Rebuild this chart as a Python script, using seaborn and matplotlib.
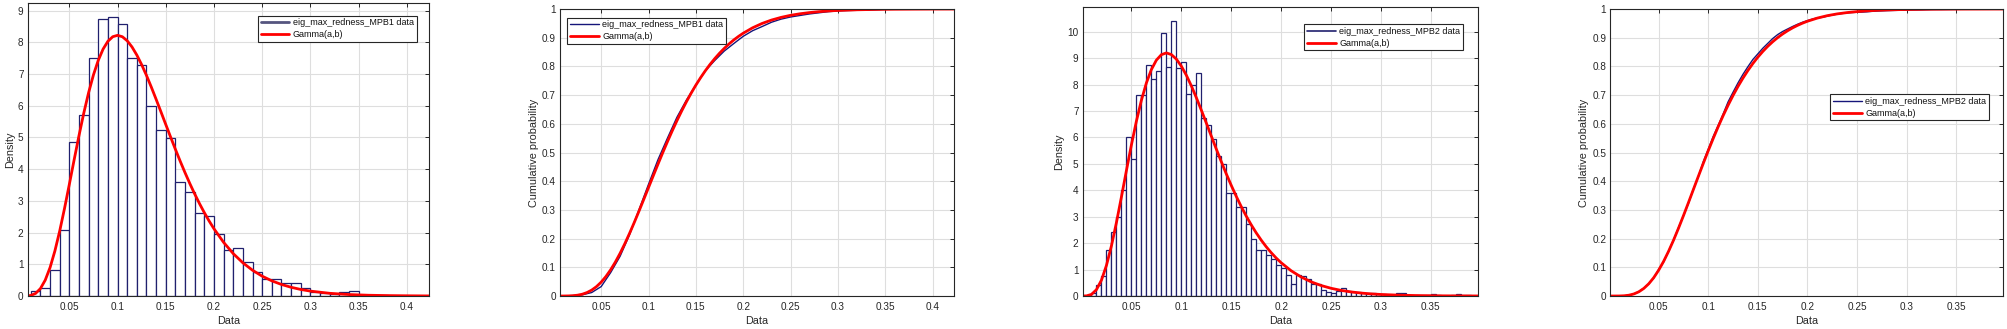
import numpy as np
import pandas as pd
import matplotlib
matplotlib.use("Agg")
import matplotlib.pyplot as plt
from matplotlib.lines import Line2D
from matplotlib.ticker import FuncFormatter
import seaborn as sns

# ---------------- data ----------------
# Dataset 1 (eig_max_redness_MPB1): histogram, bin width 0.01 starting at 0.01
mpb1_bin_start = 0.01
mpb1_bin_width = 0.01
mpb1_density = [0.16, 0.24, 0.81, 2.07, 4.87, 5.71, 7.52, 8.75, 8.81, 8.59,
                7.51, 7.27, 5.98, 5.25, 4.97, 3.61, 3.27, 2.61, 2.53, 1.97,
                1.45, 1.51, 1.07, 0.75, 0.53, 0.53, 0.40, 0.40, 0.25, 0.14,
                0.08, 0.06, 0.12, 0.16, 0.04, 0.03, 0.03, 0.01]

# Dataset 2 (eig_max_redness_MPB2): histogram, bin width 0.005 starting at 0.01
mpb2_bin_start = 0.01
mpb2_bin_width = 0.005
mpb2_density = [0.12, 0.42, 0.77, 1.73, 2.43, 2.98, 4.00, 6.03,
                5.17, 7.59, 7.59, 8.75, 8.22, 8.51, 9.95, 8.68, 10.40, 8.64,
                8.84, 7.63, 7.97, 8.42, 6.72, 6.47, 5.93, 5.31, 5.01, 3.88,
                3.91, 3.38, 3.38, 2.74, 2.14, 1.73, 1.73, 1.55, 1.39, 1.17,
                1.05, 0.81, 0.44, 0.79, 0.77, 0.64, 0.44, 0.44, 0.23, 0.16,
                0.13, 0.19, 0.32, 0.20, 0.15, 0.15, 0.10, 0.10, 0.10, 0.08,
                0.06, 0.05, 0.05, 0.11, 0.11, 0.03, 0.00, 0.03, 0.03, 0.03,
                0.06, 0.03, 0.00, 0.00, 0.03, 0.06, 0.03, 0.04]

# Fitted Gamma(a,b) curves
g1_x = [0.0065, 0.010, 0.015, 0.020, 0.025, 0.030, 0.035, 0.040, 0.045, 0.050,
        0.055, 0.060, 0.065, 0.070, 0.075, 0.080, 0.085, 0.090, 0.095, 0.100,
        0.105, 0.110, 0.115, 0.120, 0.125, 0.130, 0.135, 0.140, 0.145, 0.150,
        0.155, 0.160, 0.165, 0.170, 0.175, 0.180, 0.185, 0.190, 0.195, 0.200,
        0.21, 0.22, 0.23, 0.24, 0.25, 0.26, 0.27, 0.28, 0.29, 0.30,
        0.32, 0.34, 0.36, 0.38, 0.40, 0.42, 0.423]
g1_pdf = [0.003, 0.017, 0.082, 0.234, 0.502, 0.898, 1.420, 2.051, 2.763, 3.524,
          4.300, 5.059, 5.773, 6.417, 6.974, 7.433, 7.787, 8.034, 8.177, 8.221,
          8.176, 8.049, 7.853, 7.598, 7.295, 6.956, 6.589, 6.203, 5.808, 5.409,
          5.014, 4.625, 4.249, 3.888, 3.543, 3.218, 2.913, 2.628, 2.364, 2.120,
          1.691, 1.336, 1.046, 0.812, 0.625, 0.478, 0.364, 0.275, 0.206, 0.154,
          0.085, 0.046, 0.024, 0.013, 0.007, 0.003, 0.003]
g1_cdf = [0.0000, 0.0000, 0.0003, 0.0010, 0.0028, 0.0062, 0.0120, 0.0206, 0.0326, 0.0483,
          0.0679, 0.0913, 0.1184, 0.1489, 0.1824, 0.2185, 0.2566, 0.2962, 0.3368, 0.3778,
          0.4188, 0.4594, 0.4992, 0.5378, 0.5751, 0.6107, 0.6446, 0.6766, 0.7066, 0.7347,
          0.7607, 0.7848, 0.8070, 0.8273, 0.8459, 0.8628, 0.8781, 0.8920, 0.9044, 0.9156,
          0.9346, 0.9497, 0.9616, 0.9708, 0.9780, 0.9834, 0.9876, 0.9908, 0.9932, 0.9950,
          0.9973, 0.9986, 0.9993, 0.9996, 0.9998, 0.9999, 0.9999]

g2_x = [0.0012, 0.005, 0.010, 0.015, 0.020, 0.025, 0.030, 0.035, 0.040, 0.045,
        0.050, 0.055, 0.060, 0.065, 0.070, 0.075, 0.080, 0.085, 0.090, 0.095,
        0.100, 0.105, 0.110, 0.115, 0.120, 0.125, 0.130, 0.135, 0.140, 0.145,
        0.150, 0.155, 0.160, 0.165, 0.170, 0.175, 0.180, 0.185, 0.190, 0.195,
        0.200, 0.21, 0.22, 0.23, 0.24, 0.25, 0.26, 0.27, 0.28, 0.29,
        0.30, 0.32, 0.34, 0.36, 0.38, 0.3975]
g2_pdf = [0.000, 0.005, 0.060, 0.240, 0.600, 1.158, 1.898, 2.779, 3.747, 4.744,
          5.715, 6.613, 7.402, 8.058, 8.566, 8.921, 9.128, 9.194, 9.133, 8.961,
          8.695, 8.353, 7.952, 7.507, 7.034, 6.546, 6.052, 5.563, 5.085, 4.624,
          4.186, 3.772, 3.384, 3.025, 2.694, 2.391, 2.115, 1.865, 1.640, 1.438,
          1.258, 0.955, 0.719, 0.536, 0.397, 0.292, 0.213, 0.155, 0.112, 0.080,
          0.058, 0.029, 0.014, 0.007, 0.003, 0.002]
g2_cdf = [0.0000, 0.0000, 0.0001, 0.0008, 0.0028, 0.0072, 0.0147, 0.0264, 0.0427, 0.0639,
          0.0901, 0.1209, 0.1560, 0.1947, 0.2363, 0.2801, 0.3253, 0.3712, 0.4170, 0.4623,
          0.5065, 0.5491, 0.5899, 0.6286, 0.6649, 0.6989, 0.7304, 0.7594, 0.7860, 0.8103,
          0.8323, 0.8522, 0.8701, 0.8861, 0.9004, 0.9131, 0.9243, 0.9343, 0.9430, 0.9507,
          0.9574, 0.9684, 0.9768, 0.9830, 0.9876, 0.9910, 0.9936, 0.9954, 0.9967, 0.9977,
          0.9983, 0.9992, 0.9996, 0.9998, 0.9999, 1.0000]

label_1 = "eig_max_redness_MPB1 data"
label_2 = "eig_max_redness_MPB2 data"
label_fit = "Gamma(a,b)"
xticks_1 = [0.05, 0.1, 0.15, 0.2, 0.25, 0.3, 0.35, 0.4]
xticks_2 = [0.05, 0.1, 0.15, 0.2, 0.25, 0.3, 0.35]
yticks_dens_1 = [0, 1, 2, 3, 4, 5, 6, 7, 8, 9]
yticks_dens_2 = [0, 1, 2, 3, 4, 5, 6, 7, 8, 9, 10]
yticks_cdf = [0, 0.1, 0.2, 0.3, 0.4, 0.5, 0.6, 0.7, 0.8, 0.9, 1]

# ---------------- derived tables ----------------
def hist_table(start, width, dens):
    n = len(dens)
    edges = np.round(start + width * np.arange(n + 1), 4)
    centers = (edges[:-1] + edges[1:]) / 2
    return pd.DataFrame({"x": centers, "w": dens}), [float(e) for e in edges]

df1, edges1 = hist_table(mpb1_bin_start, mpb1_bin_width, mpb1_density)
df2, edges2 = hist_table(mpb2_bin_start, mpb2_bin_width, mpb2_density)

def ecdf_table(edges, dens, width):
    c = np.cumsum(np.asarray(dens) * width)
    c = c / c[-1]
    return pd.DataFrame({"x": edges, "p": np.concatenate([[0.0], c])})

ecdf1 = ecdf_table(edges1, mpb1_density, mpb1_bin_width)
ecdf2 = ecdf_table(edges2, mpb2_density, mpb2_bin_width)

# ---------------- styling ----------------
sns.set_theme(style="white")
plt.rcParams['font.family'] = ['Liberation Sans', 'DejaVu Sans']

DARK = '#262626'
GRID = '#dedede'
EDGE = '#20206e'
BLUE = '#15157a'
RED = '#ff0000'

fig = plt.figure(figsize=(20.07, 3.29), dpi=100)
ax1 = fig.add_axes([0.01380, 0.1003, 0.19995, 0.8915])
ax2 = fig.add_axes([0.27902, 0.1003, 0.19646, 0.8723])
ax3 = fig.add_axes([0.53946, 0.1003, 0.19711, 0.8775])
ax4 = fig.add_axes([0.80234, 0.1003, 0.19581, 0.8723])

fmt = FuncFormatter(lambda v, _: f"{v:g}")

def style(ax, xlim, ylim, xticks, yticks, ylabel):
    ax.set_xlim(*xlim)
    ax.set_ylim(*ylim)
    ax.set_xticks(xticks)
    ax.set_yticks(yticks)
    ax.xaxis.set_major_formatter(fmt)
    ax.yaxis.set_major_formatter(fmt)
    ax.grid(True, color=GRID, lw=0.8)
    ax.set_axisbelow(True)
    ax.tick_params(axis='both', direction='in', length=3, width=0.7,
                   top=True, right=True, labelsize=7.2, colors=DARK)
    ax.tick_params(axis='x', pad=4)
    ax.tick_params(axis='y', pad=3)
    for s in ax.spines.values():
        s.set_visible(True)
        s.set_color(DARK)
        s.set_linewidth(0.8)
    ax.set_xlabel("Data", fontsize=7.8, color=DARK, labelpad=3)
    ax.set_ylabel(ylabel, fontsize=7.8, color=DARK, labelpad=2)

def legend(ax, handles, labels, loc, anchor):
    leg = ax.legend(handles, labels, loc=loc, bbox_to_anchor=anchor,
                    borderaxespad=0, fontsize=6.5, frameon=True, fancybox=False,
                    edgecolor=DARK, framealpha=1, facecolor='white',
                    handlelength=3.2, handletextpad=0.38, borderpad=0.3,
                    labelspacing=0.3)
    leg.get_frame().set_linewidth(0.8)
    for t in leg.get_texts():
        t.set_color('#111111')

# Panel 1: density histogram MPB1
sns.histplot(data=df1, x="x", weights="w", bins=edges1, stat="count", ax=ax1,
             color='white', edgecolor=EDGE, linewidth=0.9, alpha=1)
sns.lineplot(x=g1_x, y=g1_pdf, ax=ax1, color=RED, lw=2, estimator=None)
style(ax1, (0.0068, 0.423), (0, 9.25), xticks_1, yticks_dens_1, "Density")
legend(ax1, [Line2D([], [], color='#55557f', lw=2), Line2D([], [], color=RED, lw=2)],
       [label_1, label_fit], 'upper right', (0.969, 0.956))

# Panel 2: CDF MPB1
sns.lineplot(data=ecdf1, x="x", y="p", ax=ax2, color=BLUE, lw=1, estimator=None)
sns.lineplot(x=g1_x, y=g1_cdf, ax=ax2, color=RED, lw=2, estimator=None)
style(ax2, (0.0065, 0.423), (0, 1), xticks_1, yticks_cdf, "Cumulative probability")
legend(ax2, [Line2D([], [], color=BLUE, lw=1), Line2D([], [], color=RED, lw=2)],
       [label_1, label_fit], 'upper left', (0.0185, 0.970))

# Panel 3: density histogram MPB2
sns.histplot(data=df2, x="x", weights="w", bins=edges2, stat="count", ax=ax3,
             color='white', edgecolor=EDGE, linewidth=0.9, alpha=1)
sns.lineplot(x=g2_x, y=g2_pdf, ax=ax3, color=RED, lw=2, estimator=None)
style(ax3, (0.0012, 0.3975), (0, 10.92), xticks_2, yticks_dens_2, "Density")
legend(ax3, [Line2D([], [], color=EDGE, lw=1.2), Line2D([], [], color=RED, lw=2)],
       [label_2, label_fit], 'upper right', (0.961, 0.941))

# Panel 4: CDF MPB2
sns.lineplot(data=ecdf2, x="x", y="p", ax=ax4, color=BLUE, lw=1, estimator=None)
sns.lineplot(x=g2_x, y=g2_cdf, ax=ax4, color=RED, lw=2, estimator=None)
style(ax4, (0.0012, 0.3975), (0, 1), xticks_2, yticks_cdf, "Cumulative probability")
legend(ax4, [Line2D([], [], color=BLUE, lw=1), Line2D([], [], color=RED, lw=2)],
       [label_2, label_fit], 'upper right', (0.964, 0.703))

fig.savefig("out.png", dpi=100)
